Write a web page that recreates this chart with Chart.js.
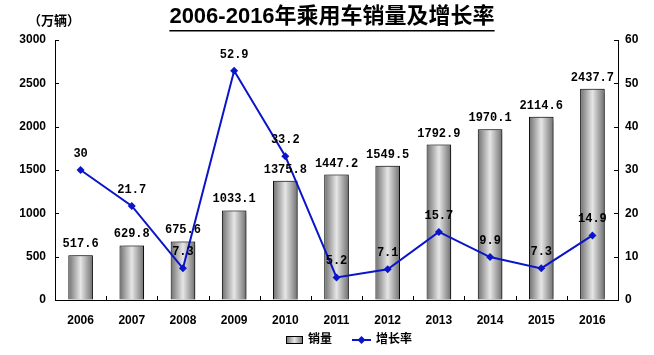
<!DOCTYPE html>
<html>
<head>
<meta charset="utf-8">
<script src="https://cdn.jsdelivr.net/npm/chart.js@4/dist/chart.umd.min.js"></script>
<style>
html, body { margin: 0; padding: 0; background: #fff; }
</style>
</head>
<body>
<canvas id="c" width="654" height="355"></canvas>
<script>
// data
const years = ['2006', '2007', '2008', '2009', '2010', '2011', '2012', '2013', '2014', '2015', '2016'];
const sales = [517.6, 629.8, 675.6, 1033.1, 1375.8, 1447.2, 1549.5, 1792.9, 1970.1, 2114.6, 2437.7];
const growth = [30, 21.7, 7.3, 52.9, 33.2, 5.2, 7.1, 15.7, 9.9, 7.3, 14.9];

const FONT = '"Liberation Sans", Arial, "Noto Sans CJK SC", sans-serif';
const LABEL_FONT = 'bold 12px "Liberation Mono", "DejaVu Sans Mono", monospace';
const BLUE = '#0a14c8';

function barGradient(ctx, x0, x1) {
  const g = ctx.createLinearGradient(x0, 0, x1, 0);
  g.addColorStop(0, '#6f6f6f');
  g.addColorStop(0.5, '#e6e6e6');
  g.addColorStop(1, '#6f6f6f');
  return g;
}

function barFill(context) {
  const chart = context.chart;
  const x = chart.scales.x;
  if (!chart.chartArea || !x) return '#aaa';
  const cx = x.getPixelForValue(context.dataIndex);
  const w = (chart.chartArea.width / years.length) * 0.48;
  return barGradient(chart.ctx, cx - w / 2, cx + w / 2);
}

const decor = {
  id: 'decor',
  beforeDatasetDraw(chart, args) {
    if (args.meta.type === 'bar') {
      const c = chart.ctx;
      c.save();
      c.shadowColor = 'rgba(0,0,0,0.5)';
      c.shadowBlur = 6;
      c.shadowOffsetX = 4;
      c.shadowOffsetY = 1;
    }
  },
  afterDatasetDraw(chart, args) {
    if (args.meta.type === 'bar') chart.ctx.restore();
  },
  afterDatasetsDraw(chart) {
    const c = chart.ctx;
    c.save();
    c.font = LABEL_FONT;
    c.fillStyle = '#000';
    c.textAlign = 'center';
    c.textBaseline = 'bottom';
    chart.getDatasetMeta(0).data.forEach((el, i) => {
      c.fillText(String(sales[i]), el.x, el.y - 5);
    });
    chart.getDatasetMeta(1).data.forEach((el, i) => {
      c.fillText(String(growth[i]), el.x, el.y - 10);
    });
    c.restore();
  },
  afterDraw(chart) {
    const c = chart.ctx;
    const a = chart.chartArea;
    c.save();
    // title
    c.fillStyle = '#000';
    c.font = 'bold 22px ' + FONT;
    c.textAlign = 'center';
    c.textBaseline = 'middle';
    const title = '2006-2016年乘用车销量及增长率';
    c.fillText(title, 332, 17);
    const tw = c.measureText(title).width;
    c.fillRect(332 - tw / 2, 30, tw, 1.5);
    // unit
    c.font = 'bold 13px ' + FONT;
    c.textAlign = 'left';
    c.fillText('（万辆）', 28, 21);

    // tick marks pointing into the plot
    c.strokeStyle = '#000';
    c.lineWidth = 1;
    c.beginPath();
    const n = years.length;
    for (let i = 1; i < n; i++) {
      const x = Math.round(a.left + i * a.width / n) + 0.5;
      c.moveTo(x, a.bottom);
      c.lineTo(x, a.bottom - 4);
    }
    chart.scales.y.ticks.forEach(t => {
      const y = Math.round(chart.scales.y.getPixelForValue(t.value)) + 0.5;
      c.moveTo(a.left, y);
      c.lineTo(a.left + 4, y);
    });
    chart.scales.y1.ticks.forEach(t => {
      const y = Math.round(chart.scales.y1.getPixelForValue(t.value)) + 0.5;
      c.moveTo(a.right, y);
      c.lineTo(a.right - 4, y);
    });
    c.stroke();

    // legend
    const ly = 340;
    c.fillStyle = barGradient(c, 286, 303);
    c.fillRect(286, ly - 4, 17, 8);
    c.strokeRect(286.5, ly - 3.5, 16, 7);
    c.fillStyle = '#000';
    c.font = 'bold 12px ' + FONT;
    c.textBaseline = 'middle';
    c.fillText('销量', 308, ly);
    c.strokeStyle = BLUE;
    c.lineWidth = 2;
    c.beginPath();
    c.moveTo(352, ly);
    c.lineTo(371, ly);
    c.stroke();
    c.fillStyle = BLUE;
    c.beginPath();
    c.moveTo(361.5, ly - 4);
    c.lineTo(365.5, ly);
    c.lineTo(361.5, ly + 4);
    c.lineTo(357.5, ly);
    c.closePath();
    c.fill();
    c.fillStyle = '#000';
    c.fillText('增长率', 376, ly);
    c.restore();
  }
};

new Chart(document.getElementById('c'), {
  data: {
    labels: years,
    datasets: [
      {
        type: 'bar',
        label: '销量',
        data: sales,
        yAxisID: 'y',
        backgroundColor: barFill,
        borderColor: '#000',
        borderWidth: 1,
        barPercentage: 0.48,
        categoryPercentage: 1,
        order: 2
      },
      {
        type: 'line',
        label: '增长率',
        data: growth,
        yAxisID: 'y1',
        borderColor: BLUE,
        backgroundColor: BLUE,
        borderWidth: 2,
        pointStyle: 'rectRot',
        pointRadius: 4,
        pointBorderWidth: 0,
        tension: 0,
        order: 1
      }
    ]
  },
  options: {
    responsive: false,
    animation: false,
    devicePixelRatio: 1,
    layout: { padding: { top: 40, bottom: 0, left: 0, right: 0 } },
    plugins: {
      legend: { display: false },
      tooltip: { enabled: false },
      title: { display: false }
    },
    scales: {
      x: {
        offset: true,
        grid: { display: false },
        border: { display: true, color: '#000', width: 1 },
        ticks: { padding: 5, color: '#000', font: { family: FONT, size: 12, weight: 'bold' } },
        afterFit(s) { s.height = 55; }
      },
      y: {
        position: 'left',
        min: 0,
        max: 3000,
        ticks: { stepSize: 500, padding: 9, color: '#000', callback: v => String(v), font: { family: FONT, size: 12, weight: 'bold' } },
        grid: { drawOnChartArea: false, drawTicks: false },
        border: { display: true, color: '#000', width: 1 },
        afterFit(s) { s.width = 55; }
      },
      y1: {
        position: 'right',
        min: 0,
        max: 60,
        ticks: { stepSize: 10, padding: 7, color: '#000', callback: v => String(v), font: { family: FONT, size: 12, weight: 'bold' } },
        grid: { drawOnChartArea: false, drawTicks: false },
        border: { display: true, color: '#000', width: 1 },
        afterFit(s) { s.width = 36; }
      }
    }
  },
  plugins: [decor]
});
</script>
</body>
</html>
